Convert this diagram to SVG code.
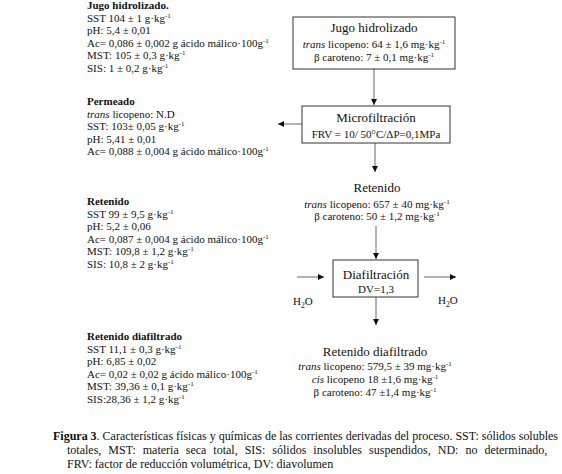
<svg xmlns="http://www.w3.org/2000/svg" width="562" height="474" viewBox="0 0 562 474">
<style>
text{font-family:"Liberation Serif","Times New Roman",serif;fill:#111}
.l{font-size:11px}
.h{font-size:11px;font-weight:bold}
.t{font-size:13px;text-anchor:middle}
.s{font-size:11px;text-anchor:middle}
.c{font-size:12px}
.box{fill:#fff;stroke:#333;stroke-width:1}
.ar{stroke:#666;stroke-width:1;fill:none;marker-end:url(#ah)}
</style>
<defs>
<marker id="ah" viewBox="0 0 8 8" refX="8" refY="4" markerWidth="6" markerHeight="6" markerUnits="userSpaceOnUse" orient="auto">
<path d="M0,0 L8,4 L0,8 z" fill="#111"/>
</marker>
</defs>
<rect width="562" height="474" fill="#fff"/>

<g id="connectors">
<line class="ar" x1="374" y1="69" x2="374" y2="105"/>
<line class="ar" x1="302" y1="124" x2="278" y2="124"/>
<line class="ar" x1="375" y1="143" x2="375" y2="172"/>
<line class="ar" x1="376" y1="226" x2="376" y2="259"/>
<line class="ar" x1="297" y1="277" x2="324" y2="277"/>
<line class="ar" x1="424" y1="277" x2="456" y2="277"/>
<line class="ar" x1="376" y1="297" x2="376" y2="325"/>
</g>

<g id="info-jugo">
<text class="h" x="87" y="9">Jugo hidrolizado.</text>
<text class="l" x="87" y="21.5">SST 104 ± 1 g·kg<tspan dy="-4" font-size="7">-1</tspan></text>
<text class="l" x="87" y="34">pH: 5,4 ± 0,01</text>
<text class="l" x="87" y="46.5">Ac= 0,086 ± 0,002 g ácido málico·100g<tspan dy="-4" font-size="7">-1</tspan></text>
<text class="l" x="87" y="59">MST: 105 ± 0,3 g·kg<tspan dy="-4" font-size="7">-1</tspan></text>
<text class="l" x="87" y="71.5">SIS: 1 ± 0,2 g·kg<tspan dy="-4" font-size="7">-1</tspan></text>
</g>

<g id="info-permeado">
<text class="h" x="87" y="105">Permeado</text>
<text class="l" x="87" y="117.5"><tspan font-style="italic">trans</tspan> licopeno: N.D</text>
<text class="l" x="87" y="130">SST: 103± 0,05 g·kg<tspan dy="-4" font-size="7">-1</tspan></text>
<text class="l" x="87" y="142.5">pH: 5,41 ± 0,01</text>
<text class="l" x="87" y="155">Ac= 0,088 ± 0,004 g ácido málico·100g<tspan dy="-4" font-size="7">-1</tspan></text>
</g>

<g id="info-retenido">
<text class="h" x="87" y="205">Retenido</text>
<text class="l" x="87" y="217.5">SST 99 ± 9,5 g·kg<tspan dy="-4" font-size="7">-1</tspan></text>
<text class="l" x="87" y="230">pH: 5,2 ± 0,06</text>
<text class="l" x="87" y="242.5">Ac= 0,087 ± 0,004 g ácido málico·100g<tspan dy="-4" font-size="7">-1</tspan></text>
<text class="l" x="87" y="255">MST: 109,8 ± 1,2 g·kg<tspan dy="-4" font-size="7">-1</tspan></text>
<text class="l" x="87" y="267.5">SIS: 10,8 ± 2 g·kg<tspan dy="-4" font-size="7">-1</tspan></text>
</g>

<g id="info-retenido-diafiltrado">
<text class="h" x="87" y="340">Retenido diafiltrado</text>
<text class="l" x="87" y="352.5">SST 11,1 ± 0,3 g·kg<tspan dy="-4" font-size="7">-1</tspan></text>
<text class="l" x="87" y="365">pH: 6,85 ± 0,02</text>
<text class="l" x="87" y="377.5">Ac= 0,02 ± 0,02 g ácido málico·100g<tspan dy="-4" font-size="7">-1</tspan></text>
<text class="l" x="87" y="390">MST: 39,36 ± 0,1 g·kg<tspan dy="-4" font-size="7">-1</tspan></text>
<text class="l" x="87" y="402.5">SIS:28,36 ± 1,2 g·kg<tspan dy="-4" font-size="7">-1</tspan></text>
</g>

<g id="node-jugo">
<rect class="box" x="293" y="17" width="162" height="52"/>
<text class="t" x="374" y="32">Jugo hidrolizado</text>
<text class="s" x="374" y="48"><tspan font-style="italic">trans</tspan> licopeno: 64 ± 1,6 mg·kg<tspan dy="-4" font-size="7">-1</tspan></text>
<text class="s" x="374" y="61">β caroteno: 7 ± 0,1 mg·kg<tspan dy="-4" font-size="7">-1</tspan></text>
</g>

<g id="node-microfiltracion">
<rect class="box" x="302" y="106" width="148" height="37"/>
<text class="t" x="376" y="122">Microfiltración</text>
<text class="s" x="376" y="138">FRV = 10/ 50°C/ΔP=0,1MPa</text>
</g>

<g id="node-retenido">
<text class="t" x="377" y="192">Retenido</text>
<text class="s" x="377" y="208"><tspan font-style="italic">trans</tspan> licopeno: 657 ± 40 mg·kg<tspan dy="-4" font-size="7">-1</tspan></text>
<text class="s" x="377" y="220">β caroteno: 50 ± 1,2 mg·kg<tspan dy="-4" font-size="7">-1</tspan></text>
</g>

<g id="node-diafiltracion">
<rect class="box" x="333" y="260" width="85" height="37"/>
<text class="t" x="376" y="279">Diafiltración</text>
<text class="s" x="376" y="293">DV=1,3</text>
</g>

<g id="h2o-in">
<text class="l" x="293" y="305">H<tspan dy="2.5" font-size="7.5">2</tspan><tspan dy="-2.5">O</tspan></text>
</g>
<g id="h2o-out">
<text class="l" x="438" y="304">H<tspan dy="2.5" font-size="7.5">2</tspan><tspan dy="-2.5">O</tspan></text>
</g>

<g id="node-retenido-diafiltrado">
<text class="t" x="375" y="356">Retenido diafiltrado</text>
<text class="s" x="375" y="370"><tspan font-style="italic">trans</tspan> licopeno: 579,5 ± 39 mg·kg<tspan dy="-4" font-size="7">-1</tspan></text>
<text class="s" x="375" y="383"><tspan font-style="italic">cis</tspan>  licopeno 18 ±1,6 mg·kg<tspan dy="-4" font-size="7">-1</tspan></text>
<text class="s" x="375" y="396">β caroteno: 47 ±1,4 mg·kg<tspan dy="-4" font-size="7">-1</tspan></text>
</g>

<g id="caption">
<text class="c" x="53" y="440" textLength="505" lengthAdjust="spacing"><tspan font-weight="bold">Figura 3</tspan>.  Características físicas y químicas de las corrientes derivadas del proceso. SST: sólidos solubles</text>
<text class="c" x="67" y="454" word-spacing="4">totales, MST: materia seca total, SIS: sólidos insolubles suspendidos, ND: no determinado,</text>
<text class="c" x="67" y="468">FRV: factor de reducción volumétrica, DV: diavolumen</text>
</g>
</svg>
